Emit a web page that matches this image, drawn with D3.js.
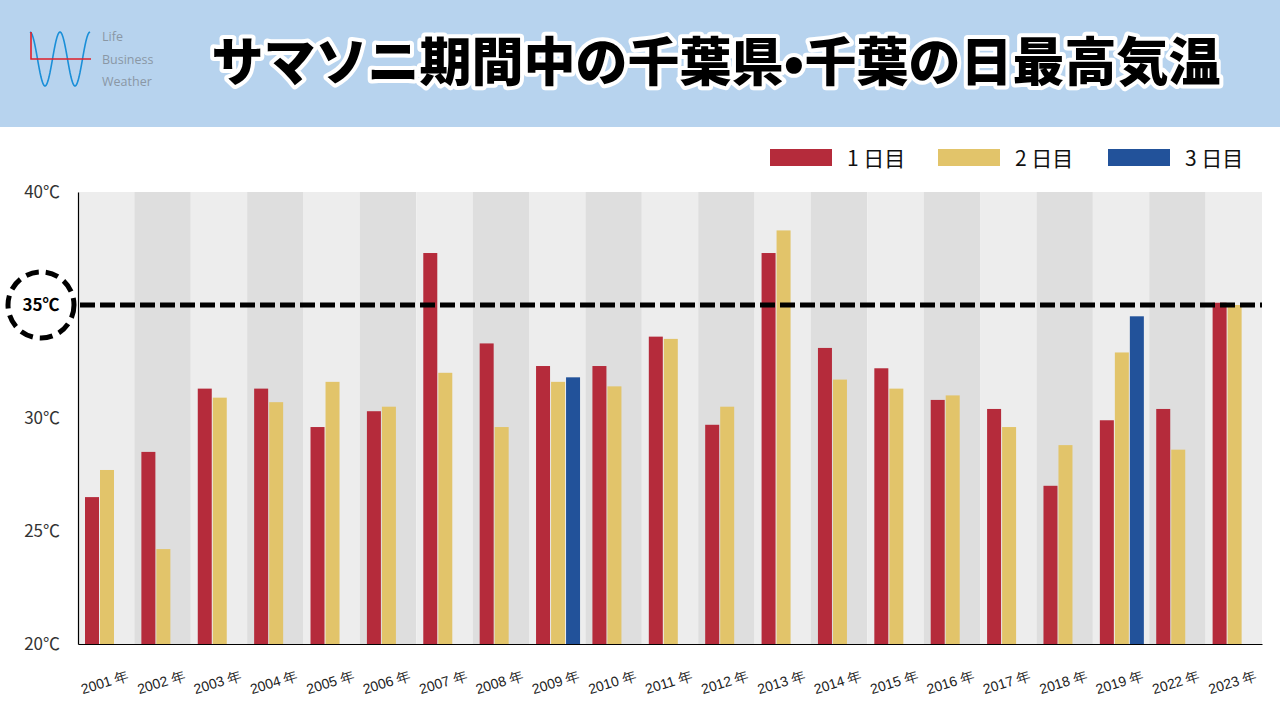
<!DOCTYPE html>
<html><head><meta charset="utf-8">
<script src="https://cdn.jsdelivr.net/npm/d3@7"></script>
<style>
html,body{margin:0;padding:0;background:#fff;}
svg{display:block;font-family:"Noto Sans CJK JP","Noto Sans",sans-serif;}
</style></head>
<body>
<svg id="chart" width="1280" height="720"></svg>
<script>
const years = ["2001","2002","2003","2004","2005","2006","2007","2008","2009","2010","2011","2012","2013","2014","2015","2016","2017","2018","2019","2022","2023"];
const day1 = [26.5,28.5,31.3,31.3,29.6,30.3,37.3,33.3,32.3,32.3,33.6,29.7,37.3,33.1,32.2,30.8,30.4,27.0,29.9,30.4,35.1];
const day2 = [27.7,24.2,30.9,30.7,31.6,30.5,32.0,29.6,31.6,31.4,33.5,30.5,38.3,31.7,31.3,31.0,29.6,28.8,32.9,28.6,35.0];
const day3 = [null,null,null,null,null,null,null,null,31.8,null,null,null,null,null,null,null,null,null,34.5,null,null];
const seriesNames = ["1 日目","2 日目","3 日目"];
const seriesColors = ["#b52b3b","#e2c46a","#22529a"];
const yTicks = [20,25,30,40];
const threshold = 35;
const title = "サマソニ期間中の千葉県•千葉の日最高気温";

const svg = d3.select("#chart");

// header
svg.append("rect").attr("x",0).attr("y",0).attr("width",1280).attr("height",127).attr("fill","#b7d3ee");
// logo
const lg = svg.append("g");
const wave = d3.range(0,61).map(i=>[30+i, 59 - 27*Math.cos(i/60*4*Math.PI)]);
lg.append("path").attr("d",d3.line()(wave)).attr("fill","none").attr("stroke","#1a8fd8").attr("stroke-width",1.6);
lg.append("path").attr("d","M31,32 L31,59 L91,59").attr("fill","none").attr("stroke","#e0202a").attr("stroke-width",1.6);
["Life","Business","Weather"].forEach((t,i)=>{
  lg.append("text").attr("x",102).attr("y",41+i*22.5).attr("font-size",12.5).attr("fill","#8a97a5").attr("font-family","'Open Sans',sans-serif").text(t);
});
// title
svg.append("text").attr("x",716).attr("y",81).attr("text-anchor","middle")
  .attr("font-size",52).attr("font-weight",900).attr("fill","#000")
  .attr("stroke","#fff").attr("stroke-width",8).attr("stroke-linejoin","round").attr("paint-order","stroke")
  .text(title);

const x0 = 78, x1 = 1262, yTop = 192, yBot = 644;
const x = d3.scaleBand().domain(years).range([x0,x1]).padding(0);
const y = d3.scaleLinear().domain([20,40]).range([yBot,yTop]);

// bands
svg.append("g").selectAll("rect").data(years).join("rect")
  .attr("x",d=>x(d)).attr("y",yTop).attr("width",x.bandwidth()).attr("height",yBot-yTop)
  .attr("fill",(d,i)=>i%2===0?"#ededed":"#dedede");

// bars
const bw = 14, gap = 1, pad = 7;
const series = [day1,day2,day3];
series.forEach((vals,si)=>{
  svg.append("g").selectAll("rect").data(years.map((yr,i)=>({yr,v:vals[i]})).filter(d=>d.v!=null)).join("rect")
    .attr("x",d=>x(d.yr)+pad+si*(bw+gap)).attr("y",d=>y(d.v))
    .attr("width",bw).attr("height",d=>yBot-y(d.v))
    .attr("fill",seriesColors[si]);
});

// axes
const yAxis = svg.append("g").attr("transform",`translate(${x0},0)`)
  .call(d3.axisLeft(y).tickValues(yTicks).tickSize(0).tickFormat(d=>d+"℃"));
yAxis.select(".domain").attr("stroke","#000").attr("stroke-width",1.2);
yAxis.selectAll("text").attr("font-size",17).attr("fill","#333").attr("x",-18).attr("font-family","'Noto Sans CJK JP',sans-serif");

const xAxis = svg.append("g").attr("transform",`translate(0,${yBot})`)
  .call(d3.axisBottom(x).tickSize(0).tickFormat(d=>d+" 年"));
xAxis.select(".domain").attr("stroke","#000").attr("stroke-width",1.2);
xAxis.selectAll("text").attr("font-size",14).attr("fill","#222")
  .attr("text-anchor","middle").attr("dy",0).attr("y",0)
  .attr("transform","translate(0,43) rotate(-17)");

// threshold line
svg.append("line").attr("x1",x0+2).attr("x2",x1).attr("y1",y(threshold)).attr("y2",y(threshold))
  .attr("stroke","#000").attr("stroke-width",5).attr("stroke-dasharray","15,5");
// circle
svg.append("circle").attr("cx",41).attr("cy",y(threshold)).attr("r",33)
  .attr("fill","#fff").attr("stroke","#000").attr("stroke-width",5).attr("stroke-dasharray","13,7");
svg.append("text").attr("x",41).attr("y",y(threshold)+6).attr("text-anchor","middle")
  .attr("font-size",17).attr("font-weight",700).attr("fill","#000").text(threshold+"℃");

// legend
const legX = [770,938,1108];
seriesNames.forEach((n,i)=>{
  svg.append("rect").attr("x",legX[i]).attr("y",149).attr("width",62).attr("height",17).attr("fill",seriesColors[i]);
  svg.append("text").attr("x",legX[i]+77).attr("y",166).attr("font-size",21).attr("fill","#111").text(n);
});
</script>
</body></html>
